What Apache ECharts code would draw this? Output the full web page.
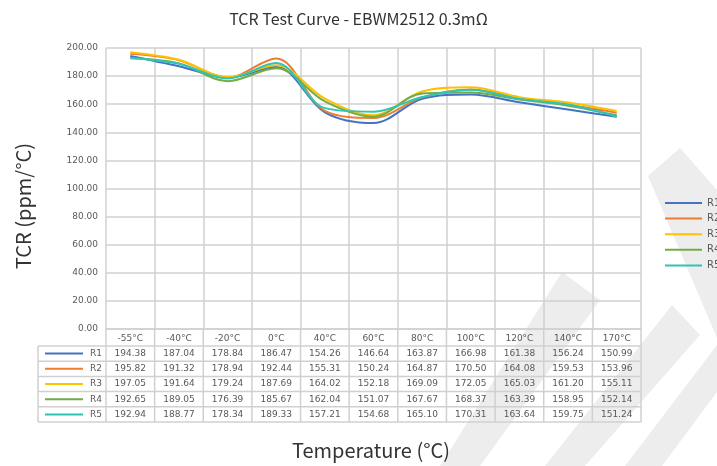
<!DOCTYPE html>
<html>
<head>
<meta charset="utf-8">
<script src="https://cdn.jsdelivr.net/npm/echarts@6/dist/echarts.min.js"></script>
<style>
  html, body { margin: 0; padding: 0; background: #fff; }
  #chart { width: 717px; height: 466px; }
</style>
</head>
<body>
<div id="chart"></div>
<script>
const chart = echarts.init(document.getElementById("chart"));

const temps = ["-55°C", "-40°C", "-20°C", "0°C", "40°C", "60°C", "80°C", "100°C", "120°C", "140°C", "170°C"];
const names = ["R1", "R2", "R3", "R4", "R5"];
const r1 = [194.38, 187.04, 178.84, 186.47, 154.26, 146.64, 163.87, 166.98, 161.38, 156.24, 150.99];
const r2 = [195.82, 191.32, 178.94, 192.44, 155.31, 150.24, 164.87, 170.50, 164.08, 159.53, 153.96];
const r3 = [197.05, 191.64, 179.24, 187.69, 164.02, 152.18, 169.09, 172.05, 165.03, 161.20, 155.11];
const r4 = [192.65, 189.05, 176.39, 185.67, 162.04, 151.07, 167.67, 168.37, 163.39, 158.95, 152.14];
const r5 = [192.94, 188.77, 178.34, 189.33, 157.21, 154.68, 165.10, 170.31, 163.64, 159.75, 151.24];
const colors = ["#4472C4", "#ED7D31", "#FFC000", "#70AD47", "#2EC4B6"];
const allRows = [r1, r2, r3, r4, r5];

const gridLeft = 106, gridRight = 641, gridTop = 48, gridBottom = 329;
const lineColor = "#d0d0d0";
const txtColor = "#595959";

const option = {
  animation: false,
  color: colors,
  title: {
    text: "TCR Test Curve - EBWM2512 0.3mΩ",
    left: "center",
    top: 6,
    textStyle: { fontFamily: "Noto Sans CJK SC", fontSize: 16, fontWeight: "normal", color: "#333" },
  },
  legend: {
    orient: "vertical",
    left: 665,
    top: 198,
    padding: 0,
    icon: "rect",
    itemWidth: 37,
    itemHeight: 2,
    itemGap: 5.6,
    textStyle: { fontFamily: "DejaVu Sans", fontSize: 10, color: txtColor },
    data: names,
  },
  grid: {
    left: gridLeft,
    right: 717 - gridRight,
    top: gridTop,
    bottom: 466 - gridBottom,
    containLabel: false,
  },
  xAxis: {
    type: "category",
    data: temps,
    boundaryGap: true,
    axisLine: { show: true, lineStyle: { color: lineColor, width: 1.5 } },
    axisTick: { show: false },
    splitLine: { show: true, lineStyle: { color: lineColor, width: 1.5 } },
    axisLabel: { fontFamily: "DejaVu Sans", fontSize: 9, color: txtColor, margin: 5, interval: 0 },
  },
  yAxis: {
    type: "value",
    min: 0,
    max: 200,
    interval: 20,
    axisLine: { show: false },
    axisTick: { show: false },
    splitLine: { lineStyle: { color: lineColor, width: 1.5 } },
    axisLabel: {
      fontFamily: "DejaVu Sans",
      fontSize: 9,
      color: txtColor,
      margin: 8,
      formatter: (v) => v.toFixed(2),
    },
  },
  series: names.map((n, i) => ({
    name: n,
    type: "line",
    data: allRows[i],
    smooth: 0.34,
    symbol: "none",
    lineStyle: { width: 2, color: colors[i] },
    itemStyle: { color: colors[i] },
  })),
};

chart.setOption(option);

// data table under the plot, built from the same arrays
function buildTable() {
  const g = [];
  // watermark stripes
  const wm = [
    [[648, 176], [680, 148], [717, 190], [717, 338]],
    [[440, 466], [480, 466], [600, 300], [562, 272]],
    [[545, 466], [585, 466], [700, 335], [672, 305]],
    [[625, 466], [662, 466], [717, 392], [717, 345]],
  ];
  wm.forEach((pts) => {
    g.push({ type: "polygon", z: -10, shape: { points: pts }, style: { fill: "#ededed" } });
  });

  const rowTop = 346, rowH = 15.2;
  const tableLeft = 38;
  const catW = (gridRight - gridLeft) / temps.length;
  const bottom = rowTop + rowH * names.length;

  // vertical lines extending through table
  for (let k = 0; k <= temps.length; k++) {
    const x = gridLeft + k * catW;
    g.push({ type: "line", shape: { x1: x, y1: gridBottom, x2: x, y2: bottom }, style: { stroke: lineColor, lineWidth: 1.5 } });
  }
  g.push({ type: "line", shape: { x1: tableLeft, y1: rowTop, x2: tableLeft, y2: bottom }, style: { stroke: lineColor, lineWidth: 1.5 } });
  // horizontal lines
  for (let r = 0; r <= names.length; r++) {
    const y = rowTop + r * rowH;
    g.push({ type: "line", shape: { x1: tableLeft, y1: y, x2: gridRight, y2: y }, style: { stroke: lineColor, lineWidth: 1.5 } });
  }

  names.forEach((n, r) => {
    const cy = rowTop + r * rowH + rowH / 2;
    g.push({ type: "line", shape: { x1: 45, y1: cy, x2: 83, y2: cy }, style: { stroke: colors[r], lineWidth: 2 } });
    g.push({
      type: "text", x: 102, y: cy,
      style: { text: n, fill: txtColor, font: "9px DejaVu Sans", align: "right", verticalAlign: "middle" },
    });
    allRows[r].forEach((v, c) => {
      const x = chart.convertToPixel({ xAxisIndex: 0 }, temps[c]);
      g.push({
        type: "text", x: x, y: cy,
        style: { text: v.toFixed(2), fill: txtColor, font: "9px DejaVu Sans", align: "center", verticalAlign: "middle" },
      });
    });
  });

  // axis titles
  g.push({
    type: "text", x: 371, y: 450,
    style: { text: "Temperature (°C)", fill: "#333", font: "20px Noto Sans CJK SC", align: "center", verticalAlign: "middle" },
  });
  g.push({
    type: "text", x: 23, y: 206, rotation: Math.PI / 2,
    style: { text: "TCR (ppm/°C)", fill: "#333", font: "20px Noto Sans CJK SC", align: "center", verticalAlign: "middle" },
  });

  chart.setOption({ graphic: g });
}
buildTable();
</script>
</body>
</html>
